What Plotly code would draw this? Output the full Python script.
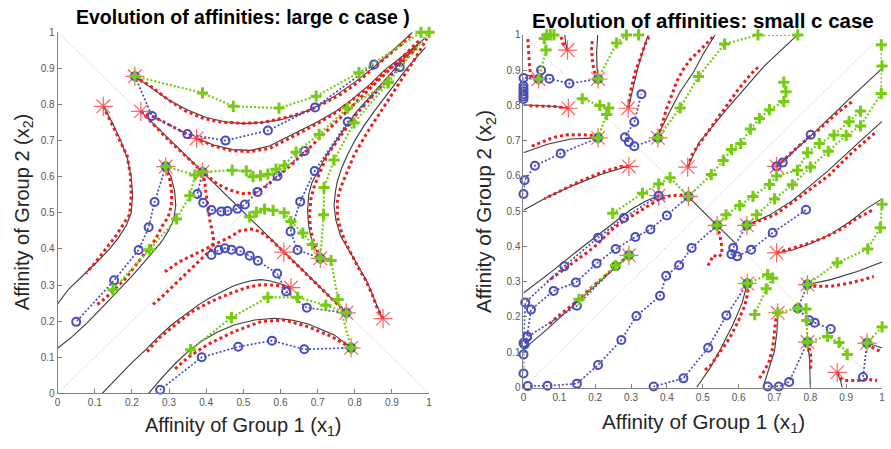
import plotly.graph_objects as go

# ---------------- shared ----------------
tick_vals = [0, 0.1, 0.2, 0.3, 0.4, 0.5, 0.6, 0.7, 0.8, 0.9, 1]
tick_text = ["0", "0.1", "0.2", "0.3", "0.4", "0.5", "0.6", "0.7", "0.8", "0.9", "1"]
diag_main = [(0, 0), (1, 1)]
diag_anti = [(0, 1), (1, 0)]

# ---------------- left panel: large c ----------------
left_stars = [(0.208, 0.878), (0.123, 0.795), (0.224, 0.781), (0.374, 0.706), (0.291, 0.628),
              (0.39, 0.613), (0.609, 0.391), (0.707, 0.374), (0.628, 0.293), (0.777, 0.223),
              (0.876, 0.207), (0.79, 0.126)]

left_black = [
    [(0.208, 0.878), (0.254, 0.846), (0.30, 0.812), (0.35, 0.785), (0.40, 0.764), (0.45, 0.752), (0.50, 0.747),
     (0.55, 0.75), (0.60, 0.758), (0.65, 0.773), (0.70, 0.796), (0.75, 0.826), (0.80, 0.862), (0.85, 0.902),
     (0.90, 0.947), (0.955, 1.0)],
    [(0.374, 0.706), (0.42, 0.688), (0.47, 0.675), (0.52, 0.673), (0.57, 0.685), (0.61, 0.705), (0.65, 0.727),
     (0.70, 0.752), (0.75, 0.782), (0.79, 0.812), (0.84, 0.855), (0.88, 0.895), (0.93, 0.935), (0.98, 0.975)],
    [(0.224, 0.781), (0.777, 0.223)],
    [(0.123, 0.795), (0.148, 0.748), (0.17, 0.70), (0.188, 0.65), (0.198, 0.60), (0.202, 0.55), (0.198, 0.50),
     (0.185, 0.465), (0.163, 0.43), (0.14, 0.40), (0.11, 0.368), (0.084, 0.343), (0.055, 0.315), (0.03, 0.289),
     (0.0, 0.248)],
    [(0.291, 0.628), (0.305, 0.60), (0.315, 0.56), (0.318, 0.52), (0.312, 0.48), (0.298, 0.45), (0.28, 0.42),
     (0.26, 0.395), (0.23, 0.36), (0.20, 0.325), (0.16, 0.28), (0.12, 0.238), (0.08, 0.196), (0.04, 0.158),
     (0.0, 0.125)],
    [(0.12, 0.0), (0.165, 0.048), (0.20, 0.085), (0.236, 0.12), (0.27, 0.155), (0.307, 0.19), (0.345, 0.22),
     (0.379, 0.245), (0.41, 0.265), (0.441, 0.282), (0.47, 0.296), (0.495, 0.305), (0.52, 0.312), (0.548, 0.315),
     (0.57, 0.312), (0.595, 0.305), (0.628, 0.293)],
    [(0.245, 0.0), (0.28, 0.042), (0.316, 0.082), (0.35, 0.115), (0.388, 0.145), (0.43, 0.17), (0.477, 0.19),
     (0.53, 0.203), (0.584, 0.208), (0.63, 0.203), (0.673, 0.193), (0.71, 0.178), (0.745, 0.162), (0.79, 0.126)],
    [(0.873, 0.21), (0.833, 0.309), (0.798, 0.372), (0.762, 0.435), (0.749, 0.48), (0.744, 0.52), (0.748, 0.56),
     (0.753, 0.588), (0.765, 0.625), (0.78, 0.66), (0.80, 0.70), (0.824, 0.74), (0.855, 0.785), (0.887, 0.83),
     (0.915, 0.866), (0.94, 0.90), (0.965, 0.93), (0.99, 0.958)],
    [(0.707, 0.374), (0.69, 0.408), (0.68, 0.44), (0.675, 0.47), (0.673, 0.507), (0.676, 0.552), (0.685, 0.585),
     (0.70, 0.615), (0.716, 0.645), (0.735, 0.677), (0.757, 0.712), (0.78, 0.745), (0.805, 0.78), (0.833, 0.812),
     (0.86, 0.845), (0.887, 0.875), (0.915, 0.907), (0.94, 0.936), (0.965, 0.96), (0.99, 0.985)],
]

left_red = [
    [(0.208, 0.878), (0.254, 0.848), (0.299, 0.812), (0.343, 0.783), (0.388, 0.763), (0.432, 0.752), (0.495, 0.748),
     (0.55, 0.75), (0.584, 0.757), (0.63, 0.768), (0.673, 0.782), (0.72, 0.805), (0.762, 0.828), (0.80, 0.855),
     (0.851, 0.902), (0.89, 0.935), (0.92, 0.962), (0.95, 0.99)],
    [(0.224, 0.781), (0.26, 0.765), (0.30, 0.744), (0.34, 0.722), (0.374, 0.706), (0.42, 0.685), (0.47, 0.672),
     (0.52, 0.67), (0.57, 0.678), (0.61, 0.698), (0.65, 0.72), (0.70, 0.748), (0.75, 0.778), (0.79, 0.81),
     (0.84, 0.85), (0.88, 0.89), (0.93, 0.93), (0.97, 0.96)],
    [(0.224, 0.781), (0.26, 0.742), (0.30, 0.70), (0.34, 0.662), (0.39, 0.613), (0.43, 0.58), (0.459, 0.565),
     (0.495, 0.553), (0.53, 0.555), (0.56, 0.572), (0.593, 0.60), (0.628, 0.632), (0.673, 0.675), (0.717, 0.718),
     (0.762, 0.764), (0.807, 0.81), (0.851, 0.855), (0.896, 0.90), (0.94, 0.945), (0.976, 0.98)],
    [(0.123, 0.795), (0.146, 0.747), (0.169, 0.70), (0.187, 0.658), (0.196, 0.604), (0.198, 0.55), (0.194, 0.496),
     (0.178, 0.471), (0.156, 0.435), (0.129, 0.399), (0.102, 0.363), (0.076, 0.332)],
    [(0.291, 0.628), (0.301, 0.595), (0.307, 0.559), (0.306, 0.52), (0.298, 0.489), (0.281, 0.462), (0.263, 0.426),
     (0.236, 0.39), (0.209, 0.354), (0.183, 0.318), (0.156, 0.291), (0.129, 0.264), (0.102, 0.242)],
    [(0.628, 0.293), (0.584, 0.30), (0.548, 0.301), (0.508, 0.293), (0.468, 0.278), (0.414, 0.255), (0.361, 0.226),
     (0.316, 0.19), (0.271, 0.152), (0.236, 0.109)],
    [(0.79, 0.126), (0.736, 0.158), (0.673, 0.185), (0.611, 0.203), (0.548, 0.199), (0.477, 0.172), (0.405, 0.136),
     (0.352, 0.10), (0.312, 0.064)],
    [(0.876, 0.207), (0.86, 0.237), (0.847, 0.273), (0.829, 0.314), (0.811, 0.345), (0.793, 0.381), (0.775, 0.417),
     (0.762, 0.453), (0.753, 0.489), (0.753, 0.535), (0.762, 0.57), (0.78, 0.615), (0.798, 0.66), (0.833, 0.722),
     (0.878, 0.794), (0.922, 0.866), (0.958, 0.92), (0.994, 0.983)],
    [(0.707, 0.374), (0.697, 0.40), (0.686, 0.43), (0.68, 0.46), (0.678, 0.493), (0.682, 0.54), (0.69, 0.57),
     (0.70, 0.597), (0.726, 0.66), (0.762, 0.713), (0.807, 0.776), (0.869, 0.848), (0.922, 0.911), (0.967, 0.956)],
    [(0.777, 0.223), (0.74, 0.26), (0.70, 0.30), (0.66, 0.34), (0.609, 0.391), (0.57, 0.43), (0.545, 0.448),
     (0.521, 0.455), (0.49, 0.45), (0.468, 0.435), (0.432, 0.417), (0.396, 0.399), (0.361, 0.381), (0.325, 0.363),
     (0.294, 0.34), (0.28, 0.335)],
    [(0.39, 0.613), (0.396, 0.586), (0.399, 0.559), (0.402, 0.532), (0.405, 0.505), (0.41, 0.478), (0.416, 0.45),
     (0.42, 0.425), (0.415, 0.40), (0.39, 0.375), (0.36, 0.345), (0.33, 0.315), (0.30, 0.287), (0.275, 0.262),
     (0.254, 0.244)],
]

left_blue = [
    [(0.208, 0.878), (0.254, 0.768), (0.349, 0.718), (0.452, 0.70), (0.566, 0.728), (0.693, 0.792), (0.852, 0.911)],
    [(0.39, 0.613), (0.376, 0.552), (0.392, 0.528), (0.414, 0.508), (0.441, 0.504), (0.457, 0.505), (0.484, 0.511),
     (0.504, 0.523), (0.538, 0.558), (0.592, 0.602), (0.665, 0.671)],
    [(0.707, 0.374), (0.646, 0.397), (0.627, 0.448), (0.653, 0.531), (0.692, 0.616), (0.781, 0.752), (0.921, 0.903)],
    [(0.777, 0.223), (0.671, 0.237), (0.615, 0.282), (0.591, 0.332), (0.539, 0.367), (0.517, 0.381), (0.491, 0.394),
     (0.468, 0.398), (0.45, 0.402), (0.434, 0.397), (0.414, 0.383)],
    [(0.79, 0.126), (0.664, 0.122), (0.577, 0.146), (0.486, 0.129), (0.388, 0.10), (0.276, 0.01)],
    [(0.291, 0.628), (0.261, 0.53), (0.245, 0.46), (0.218, 0.397), (0.152, 0.313), (0.05, 0.198)],
]

left_green = [
    [(0.208, 0.878), (0.39, 0.832), (0.473, 0.795), (0.596, 0.79), (0.696, 0.823), (0.811, 0.888), (0.978, 1.0)],
    [(0.39, 0.613), (0.47, 0.618), (0.508, 0.616), (0.526, 0.60), (0.546, 0.603), (0.566, 0.607), (0.588, 0.621),
     (0.61, 0.631), (0.642, 0.668), (0.704, 0.717), (0.78, 0.79), (0.889, 0.86), (1.0, 1.0)],
    [(0.291, 0.628), (0.37, 0.605), (0.356, 0.547), (0.32, 0.483), (0.247, 0.398), (0.149, 0.287)],
    [(0.517, 0.489), (0.535, 0.502), (0.557, 0.51), (0.58, 0.507), (0.61, 0.50), (0.628, 0.476), (0.66, 0.444),
     (0.686, 0.412), (0.707, 0.374)],
    [(0.79, 0.126), (0.755, 0.26), (0.736, 0.368), (0.707, 0.374)],
    [(0.707, 0.374), (0.716, 0.495), (0.717, 0.57), (0.744, 0.646), (0.798, 0.749), (0.891, 0.862)],
    [(0.777, 0.223), (0.722, 0.244), (0.646, 0.266), (0.566, 0.266), (0.468, 0.21), (0.358, 0.121)],
]

# ---------------- right panel: small c ----------------
right_stars = [(0.042, 0.875), (0.123, 0.957), (0.208, 0.875), (0.125, 0.792), (0.208, 0.708), (0.292, 0.792),
               (0.294, 0.627), (0.375, 0.708), (0.458, 0.625), (0.377, 0.544), (0.46, 0.542), (0.706, 0.627),
               (0.294, 0.375), (0.54, 0.46), (0.623, 0.46), (0.706, 0.382), (0.624, 0.295), (0.792, 0.292),
               (0.709, 0.212), (0.792, 0.129), (0.875, 0.043), (0.958, 0.126)]

right_black = [
    [(0.0, 0.89), (0.042, 0.875)],
    [(0.123, 0.957), (0.118, 0.975), (0.115, 1.0)],
    [(0.208, 0.875), (0.205, 0.91), (0.204, 0.95), (0.207, 1.0)],
    [(0.0, 0.802), (0.05, 0.80), (0.09, 0.797), (0.125, 0.792)],
    [(0.0, 0.666), (0.067, 0.69), (0.132, 0.705), (0.208, 0.708)],
    [(0.292, 0.792), (0.305, 0.85), (0.32, 0.91), (0.335, 0.96), (0.348, 1.0)],
    [(0.0, 0.503), (0.067, 0.54), (0.141, 0.574), (0.215, 0.604), (0.28, 0.624), (0.294, 0.627)],
    [(0.375, 0.708), (0.381, 0.728), (0.409, 0.784), (0.437, 0.839), (0.474, 0.894), (0.501, 0.945), (0.534, 1.0)],
    [(0.458, 0.625), (0.49, 0.695), (0.58, 0.805), (0.672, 0.912), (0.764, 1.0)],
    [(0.458, 0.542), (0.59, 0.41)],
    [(0.0, 0.268), (0.08, 0.33), (0.16, 0.395), (0.243, 0.461), (0.30, 0.505), (0.34, 0.528), (0.377, 0.544)],
    [(0.0, 0.108), (0.06, 0.16), (0.12, 0.215), (0.18, 0.27), (0.24, 0.325), (0.294, 0.375)],
    [(0.706, 0.627), (0.80, 0.712), (0.90, 0.81), (1.0, 0.905)],
    [(0.623, 0.46), (0.686, 0.489), (0.75, 0.53), (0.85, 0.615), (0.93, 0.69), (1.0, 0.755)],
    [(0.706, 0.382), (0.75, 0.39), (0.80, 0.408), (0.857, 0.435), (0.91, 0.47), (0.958, 0.508), (1.0, 0.535)],
    [(0.792, 0.292), (0.857, 0.306), (0.931, 0.329), (1.0, 0.356)],
    [(0.624, 0.295), (0.61, 0.24), (0.585, 0.18), (0.55, 0.11), (0.52, 0.055), (0.483, 0.0)],
    [(0.709, 0.212), (0.707, 0.158), (0.70, 0.103), (0.686, 0.057), (0.668, 0.0)],
    [(0.792, 0.129), (0.798, 0.08), (0.80, 0.0)],
    [(0.875, 0.043), (0.884, 0.02), (0.889, 0.0)],
    [(0.958, 0.126), (0.98, 0.118), (1.0, 0.112)],
]

right_red = [
    [(0.042, 0.875), (0.02, 0.885), (0.017, 0.91), (0.015, 0.94), (0.013, 0.97), (0.012, 0.99)],
    [(0.123, 0.957), (0.114, 0.968), (0.108, 0.985), (0.104, 0.995)],
    [(0.208, 0.875), (0.196, 0.90), (0.192, 0.93), (0.19, 0.96), (0.192, 0.985)],
    [(0.125, 0.792), (0.09, 0.797), (0.05, 0.798), (0.01, 0.799)],
    [(0.208, 0.708), (0.197, 0.715), (0.16, 0.717), (0.123, 0.717), (0.086, 0.71), (0.049, 0.696), (0.017, 0.682)],
    [(0.292, 0.792), (0.30, 0.845), (0.31, 0.89), (0.325, 0.935), (0.34, 0.975), (0.35, 0.995)],
    [(0.294, 0.627), (0.271, 0.627), (0.215, 0.609), (0.16, 0.586), (0.104, 0.558), (0.058, 0.535)],
    [(0.375, 0.708), (0.386, 0.747), (0.40, 0.793), (0.414, 0.83), (0.427, 0.867), (0.446, 0.903), (0.465, 0.93),
     (0.4875, 0.952), (0.506, 0.972), (0.529, 0.995)],
    [(0.458, 0.625), (0.47, 0.66), (0.4875, 0.687), (0.524, 0.738), (0.561, 0.793), (0.598, 0.844), (0.635, 0.89),
     (0.654, 0.908)],
    [(0.46, 0.542), (0.446, 0.546), (0.409, 0.544), (0.372, 0.53), (0.335, 0.507), (0.298, 0.485), (0.28, 0.472),
     (0.252, 0.453), (0.224, 0.425), (0.197, 0.398), (0.16, 0.37), (0.123, 0.343), (0.095, 0.324), (0.067, 0.301)],
    [(0.294, 0.375), (0.26, 0.345), (0.22, 0.31), (0.18, 0.275), (0.15, 0.245), (0.12, 0.222), (0.09, 0.197),
     (0.072, 0.18)],
    [(0.706, 0.627), (0.764, 0.682), (0.82, 0.728), (0.875, 0.779), (0.917, 0.811)],
    [(0.623, 0.46), (0.70, 0.489), (0.77, 0.54), (0.85, 0.60), (0.92, 0.67), (0.986, 0.727)],
    [(0.706, 0.382), (0.746, 0.393), (0.79, 0.407), (0.838, 0.425), (0.884, 0.448), (0.93, 0.48), (0.977, 0.505)],
    [(0.54, 0.46), (0.547, 0.435), (0.552, 0.407), (0.554, 0.379), (0.543, 0.37), (0.529, 0.375), (0.52, 0.356),
     (0.511, 0.338)],
    [(0.624, 0.295), (0.626, 0.269), (0.617, 0.232), (0.598, 0.186), (0.575, 0.14), (0.547, 0.099), (0.52, 0.06),
     (0.506, 0.05)],
    [(0.792, 0.292), (0.811, 0.287), (0.857, 0.287), (0.903, 0.295), (0.949, 0.306), (0.977, 0.315)],
    [(0.709, 0.212), (0.704, 0.195), (0.70, 0.158), (0.695, 0.112), (0.686, 0.076), (0.672, 0.048), (0.654, 0.02)],
    [(0.792, 0.129), (0.80, 0.10), (0.802, 0.07), (0.80, 0.05)],
    [(0.875, 0.043), (0.885, 0.025), (0.90, 0.02), (0.93, 0.02), (0.96, 0.023), (0.986, 0.02)],
    [(0.958, 0.126), (0.968, 0.117), (0.982, 0.108), (0.995, 0.103)],
]

right_blue = [
    [(0.042, 0.875), (0.049, 0.90)],
    [(0.208, 0.875), (0.128, 0.862), (0.072, 0.876), (0.0, 0.878), (0.0, 0.856), (0.0, 0.848), (0.0, 0.84),
     (0.0, 0.832), (0.0, 0.825), (0.0, 0.818)],
    [(0.208, 0.708), (0.104, 0.664), (0.032, 0.629), (0.003, 0.588), (0.0, 0.549)],
    [(0.375, 0.708), (0.309, 0.684), (0.294, 0.696), (0.283, 0.71), (0.309, 0.753), (0.329, 0.832)],
    [(0.377, 0.544), (0.28, 0.481), (0.208, 0.425), (0.114, 0.344), (0.005, 0.241), (0.0, 0.126)],
    [(0.46, 0.542), (0.40, 0.488), (0.354, 0.448), (0.312, 0.427), (0.257, 0.393), (0.204, 0.352), (0.146, 0.298),
     (0.084, 0.274), (0.021, 0.221), (0.01, 0.145), (0.0, 0.094), (0.0, 0.04)],
    [(0.294, 0.375), (0.257, 0.344), (0.149, 0.232), (0.01, 0.143), (0.003, 0.122)],
    [(0.54, 0.46), (0.469, 0.396), (0.434, 0.347), (0.398, 0.317), (0.381, 0.26), (0.315, 0.203), (0.273, 0.135),
     (0.208, 0.064), (0.149, 0.011), (0.067, 0.005), (0.012, 0.004)],
    [(0.623, 0.46), (0.585, 0.396), (0.58, 0.378), (0.596, 0.372), (0.635, 0.391), (0.695, 0.439), (0.788, 0.504)],
    [(0.706, 0.627), (0.723, 0.638), (0.801, 0.717)],
    [(0.624, 0.295), (0.566, 0.204), (0.515, 0.113), (0.446, 0.026), (0.363, 0.003)],
    [(0.792, 0.292), (0.765, 0.224), (0.797, 0.191), (0.812, 0.184), (0.857, 0.166)],
    [(0.792, 0.129), (0.741, 0.016), (0.712, 0.003), (0.681, 0.003)],
    [(0.958, 0.126), (0.947, 0.03)],
]

right_green = [
    [(0.042, 0.875), (0.063, 0.957), (0.058, 0.99), (0.065, 1.0), (0.075, 1.0), (0.085, 1.0)],
    [(0.208, 0.875), (0.26, 0.977), (0.287, 1.0), (0.321, 1.0)],
    [(0.208, 0.708), (0.232, 0.774), (0.238, 0.793), (0.213, 0.80), (0.164, 0.819)],
    [(0.375, 0.708), (0.437, 0.793), (0.488, 0.882), (0.561, 0.974), (0.654, 1.0), (0.765, 1.0)],
    [(0.46, 0.542), (0.524, 0.604), (0.557, 0.644), (0.58, 0.675), (0.606, 0.692), (0.633, 0.733), (0.658, 0.763),
     (0.686, 0.788), (0.726, 0.811), (0.732, 0.839), (0.726, 0.866)],
    [(0.46, 0.542), (0.409, 0.595), (0.377, 0.577), (0.332, 0.551), (0.249, 0.494)],
    [(0.54, 0.46), (0.565, 0.49), (0.603, 0.516), (0.64, 0.542), (0.686, 0.576), (0.706, 0.60), (0.764, 0.616),
     (0.792, 0.666), (0.825, 0.692), (0.866, 0.716), (0.908, 0.754), (0.94, 0.784)],
    [(0.623, 0.46), (0.65, 0.49), (0.70, 0.535), (0.75, 0.575), (0.80, 0.625), (0.85, 0.67), (0.90, 0.715),
     (0.94, 0.742), (0.998, 0.834), (1.0, 0.912), (0.998, 0.972)],
    [(0.792, 0.292), (0.875, 0.354), (0.96, 0.393), (0.995, 0.453), (1.0, 0.52)],
    [(0.624, 0.295), (0.681, 0.32), (0.695, 0.31), (0.677, 0.28), (0.645, 0.207)],
    [(0.709, 0.212), (0.765, 0.225), (0.788, 0.223), (0.79, 0.19), (0.792, 0.129)],
    [(0.792, 0.129), (0.848, 0.145), (0.88, 0.128), (0.903, 0.094)],
    [(0.958, 0.126), (1.0, 0.172)],
    [(0.294, 0.375), (0.257, 0.346), (0.155, 0.25)],
]

# ---------------- styles ----------------
RED = "rgb(236,28,28)"
BLUE = "rgb(72,76,190)"
GREEN = "rgb(118,204,18)"
STAR = "rgba(255,70,70,0.85)"
BLACK = "#3a3a3a"
GRAY = "#b8b8b8"

fig = go.Figure()


def add_curves(curves, xa, ya, line, mode="lines", marker=None):
    for c in curves:
        xs = [p[0] for p in c]
        ys = [p[1] for p in c]
        kw = dict(x=xs, y=ys, xaxis=xa, yaxis=ya, mode=mode, line=line,
                  showlegend=False, hoverinfo="skip", cliponaxis=False)
        if marker is not None:
            kw["marker"] = marker
        fig.add_trace(go.Scatter(**kw))


def add_stars(stars, xa, ya):
    fig.add_trace(go.Scatter(x=[p[0] for p in stars], y=[p[1] for p in stars], xaxis=xa, yaxis=ya,
                             mode="markers", showlegend=False, hoverinfo="skip", cliponaxis=False,
                             marker=dict(symbol="asterisk-open", size=16, color=STAR,
                                         line=dict(color=STAR, width=1.2))))


for xa, ya, black, red, blue, green, stars in [
    ("x", "y", left_black, left_red, left_blue, left_green, left_stars),
    ("x2", "y2", right_black, right_red, right_blue, right_green, right_stars),
]:
    add_curves([diag_main, diag_anti], xa, ya, dict(color=GRAY, width=1, dash="1px,2px"))
    add_curves(black, xa, ya, dict(color=BLACK, width=1.1))
    add_curves(red, xa, ya, dict(color=RED, width=3, dash="dot"))
    add_stars(stars, xa, ya)
    add_curves(blue, xa, ya, dict(color=BLUE, width=1.7, dash="2px,2px"), mode="lines+markers",
               marker=dict(symbol="circle-open", size=8, color=BLUE, line=dict(color=BLUE, width=2)))
    add_curves(green, xa, ya, dict(color=GREEN, width=2.2, dash="2px,2px"), mode="lines+markers",
               marker=dict(symbol="cross-thin-open", size=8, color=GREEN, line=dict(color=GREEN, width=3)))

W, H = 891, 449
axis_common = dict(range=[0, 1], tickvals=tick_vals, ticktext=tick_text, ticks="inside", ticklen=4,
                   tickcolor="#808080", showline=True, linecolor="#808080", linewidth=1, showgrid=False,
                   zeroline=False, tickfont=dict(family="Liberation Sans, Arial, sans-serif", size=10, color="#555555"))

fig.update_layout(
    width=W, height=H, margin=dict(l=0, r=0, t=0, b=0),
    paper_bgcolor="white", plot_bgcolor="white",
    xaxis=dict(domain=[55 / W, 429 / W], anchor="y", **axis_common),
    yaxis=dict(domain=[1 - 398 / H, 1 - 27 / H], anchor="x", **axis_common),
    xaxis2=dict(domain=[524 / W, 885 / W], anchor="y2", **axis_common),
    yaxis2=dict(domain=[1 - 392 / H, 1 - 29.7 / H], anchor="x2", **axis_common),
)

tfont = dict(family="Liberation Sans, Arial, sans-serif", color="#000000")
lfont = dict(family="Liberation Sans, Arial, sans-serif", color="#262626")
annos = [
    dict(text="<b>Evolution of affinities: large c case )</b>", x=242 / W, y=1 - 11 / H,
         font=dict(size=19.5, **tfont)),
    dict(text="<b>Evolution of affinities: small c case</b>", x=705 / W, y=1 - 15 / H,
         font=dict(size=20.5, **tfont)),
    dict(text="Affinity of Group 1 (x<sub>1</sub>)", x=242 / W, y=1 - 432 / H, font=dict(size=20, **lfont)),
    dict(text="Affinity of Group 1 (x<sub>1</sub>)", x=705 / W, y=1 - 428 / H, font=dict(size=20.7, **lfont)),
    dict(text="Affinity of Group 2 (x<sub>2</sub>)", x=20 / W, y=1 - 212 / H, textangle=-90,
         font=dict(size=20, **lfont)),
    dict(text="Affinity of Group 2 (x<sub>2</sub>)", x=486 / W, y=1 - 211 / H, textangle=-90,
         font=dict(size=20.7, **lfont)),
]
for a in annos:
    a.update(xref="paper", yref="paper", showarrow=False, xanchor="center", yanchor="middle")
fig.update_layout(annotations=annos)

fig.write_html("out.html")
